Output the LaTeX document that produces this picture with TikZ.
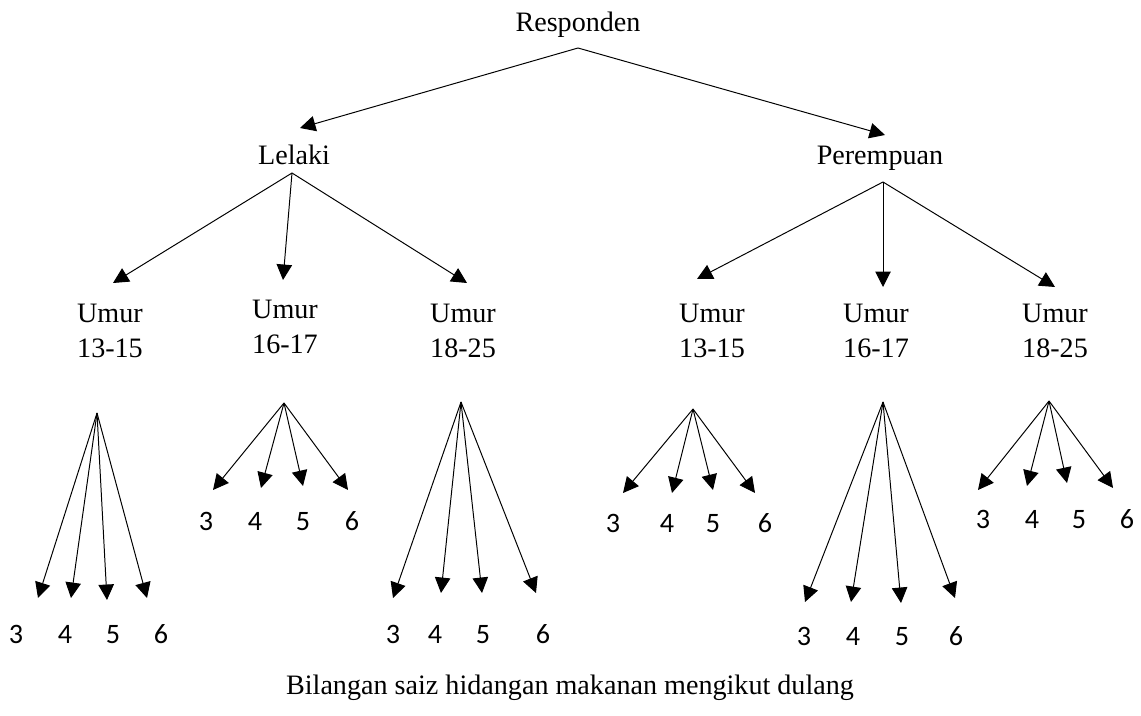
\documentclass[tikz,border=0pt]{standalone}
\usepackage{fontspec}
\setmainfont{Liberation Serif}
\newfontfamily\digitfont{Carlito}
\usetikzlibrary{arrows.meta}
\begin{document}
\begin{tikzpicture}[x=0.025cm,y=-0.025cm,
    lbl/.style={font=\fontsize{20}{25}\selectfont,inner sep=0pt},
    umur/.style={lbl,align=center},
    num/.style={font=\digitfont\fontsize{20}{24}\selectfont,inner sep=0pt,anchor=base},
    >={Triangle[length=11pt,width=11pt]},line width=0.7pt]
  \useasboundingbox (0,0) rectangle (1141,715);
  \draw
    (578,32) node[lbl,anchor=base] (resp){Responden}
    (294,165) node[lbl,anchor=base] (lel){Lelaki}
    (880,165) node[lbl,anchor=base] (per){Perempuan}
    (110,331) node[umur] (l1){Umur\\13-15}
    (285,327) node[umur] (l2){Umur\\16-17}
    (463,331) node[umur] (l3){Umur\\18-25}
    (712,331) node[umur] (p1){Umur\\13-15}
    (876,331) node[umur] (p2){Umur\\16-17}
    (1055,331) node[umur] (p3){Umur\\18-25}
    (570,694) node[lbl,anchor=base] (cap){Bilangan saiz hidangan makanan mengikut dulang};
  % digits under the fans
  \draw
    (16,643) node[num] (a3){3} (65,643) node[num] (a4){4} (113,643) node[num] (a5){5} (161,643) node[num] (a6){6}
    (206,530) node[num] (b3){3} (255,530) node[num] (b4){4} (303,530) node[num] (b5){5} (352,530) node[num] (b6){6}
    (393,643) node[num] (c3){3} (435,643) node[num] (c4){4} (483,643) node[num] (c5){5} (543,643) node[num] (c6){6}
    (613,532) node[num] (d3){3} (667,532) node[num] (d4){4} (713,532) node[num] (d5){5} (765,532) node[num] (d6){6}
    (804,645) node[num] (e3){3} (853,645) node[num] (e4){4} (902,645) node[num] (e5){5} (956,645) node[num] (e6){6}
    (983,528) node[num] (f3){3} (1032,528) node[num] (f4){4} (1079,528) node[num] (f5){5} (1127,528) node[num] (f6){6};
  % branch points and arrow ends
  \draw
    (578,48) coordinate (resp-a) (300,128) coordinate (lel-t) (885,135) coordinate (per-t)
    (292,173) coordinate (lel-a) (113,283) coordinate (l1-t) (283,280) coordinate (l2-t) (467,283) coordinate (l3-t)
    (883,182) coordinate (per-a) (697,279) coordinate (p1-t) (883,287) coordinate (p2-t) (1055,287) coordinate (p3-t)
    (97,413) coordinate (a) (38,598) coordinate (a3-t) (71,598) coordinate (a4-t) (107,600) coordinate (a5-t) (147,598) coordinate (a6-t)
    (284,403) coordinate (b) (213,490) coordinate (b3-t) (261,488) coordinate (b4-t) (303,486) coordinate (b5-t) (348,490) coordinate (b6-t)
    (461,402) coordinate (c) (393,598) coordinate (c3-t) (441,593) coordinate (c4-t) (482,593) coordinate (c5-t) (536,593) coordinate (c6-t)
    (693,409) coordinate (d) (623,493) coordinate (d3-t) (672,493) coordinate (d4-t) (713,490) coordinate (d5-t) (755,493) coordinate (d6-t)
    (883,402) coordinate (e) (805,602) coordinate (e3-t) (851,602) coordinate (e4-t) (901,603) coordinate (e5-t) (955,598) coordinate (e6-t)
    (1049,401) coordinate (f) (978,490) coordinate (f3-t) (1027,486) coordinate (f4-t) (1067,483) coordinate (f5-t) (1113,488) coordinate (f6-t);
  \begin{scope}[->]
    \draw (resp-a) to (lel-t);
    \draw (resp-a) to (per-t);
    \draw (lel-a) to (l1-t);
    \draw (lel-a) to (l2-t);
    \draw (lel-a) to (l3-t);
    \draw (per-a) to (p1-t);
    \draw (per-a) to (p2-t);
    \draw (per-a) to (p3-t);
    \draw (a) to (a3-t);
    \draw (a) to (a4-t);
    \draw (a) to (a5-t);
    \draw (a) to (a6-t);
    \draw (b) to (b3-t);
    \draw (b) to (b4-t);
    \draw (b) to (b5-t);
    \draw (b) to (b6-t);
    \draw (c) to (c3-t);
    \draw (c) to (c4-t);
    \draw (c) to (c5-t);
    \draw (c) to (c6-t);
    \draw (d) to (d3-t);
    \draw (d) to (d4-t);
    \draw (d) to (d5-t);
    \draw (d) to (d6-t);
    \draw (e) to (e3-t);
    \draw (e) to (e4-t);
    \draw (e) to (e5-t);
    \draw (e) to (e6-t);
    \draw (f) to (f3-t);
    \draw (f) to (f4-t);
    \draw (f) to (f5-t);
    \draw (f) to (f6-t);
  \end{scope}
\end{tikzpicture}
\end{document}
